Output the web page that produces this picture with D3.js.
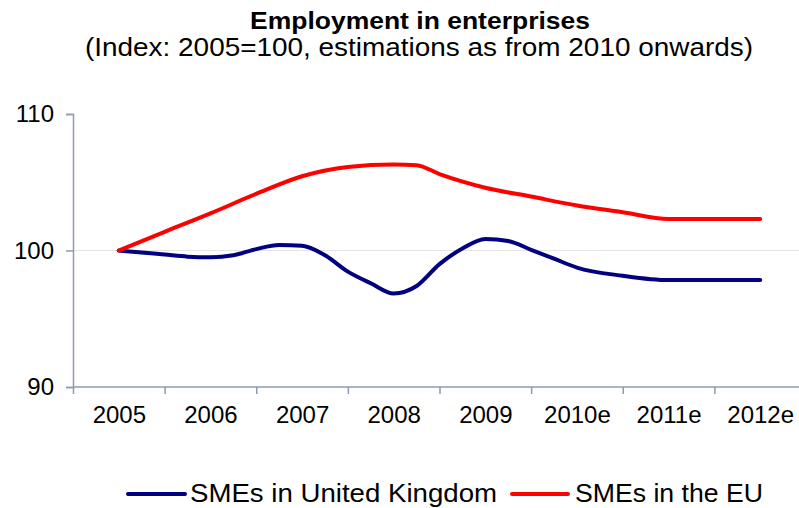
<!DOCTYPE html>
<html>
<head>
<meta charset="utf-8">
<script src="https://cdn.jsdelivr.net/npm/d3@7"></script>
<style>
  html, body { margin: 0; padding: 0; background: #fff; }
  svg { display: block; font-family: "Liberation Sans", Arial, sans-serif; }
</style>
</head>
<body>
<svg id="chart" width="799" height="508"></svg>
<script>
const categories = ["2005", "2006", "2007", "2008", "2009", "2010e", "2011e", "2012e"];
const yTicks = [90, 100, 110];
const gridValues = [100];
const ukPeriods = [0, 0.25, 0.5, 0.75, 1, 1.25, 1.5, 1.75, 2, 2.25, 2.5, 2.75, 3, 3.25, 3.5, 3.75, 4, 4.25, 4.5, 4.75, 5, 5.5, 6, 7];
const ukValues  = [100, 99.85, 99.7, 99.55, 99.5, 99.65, 100.1, 100.4, 100.35, 99.65, 98.45, 97.6, 96.85, 97.4, 99.0, 100.15, 100.85, 100.7, 100.05, 99.4, 98.75, 98.15, 97.83, 97.83];
const euPeriods = [0, 0.5, 1, 1.5, 2, 2.5, 3, 3.25, 3.5, 4, 4.5, 5, 5.5, 6, 7];
const euValues  = [100, 101.37, 102.72, 104.15, 105.44, 106.12, 106.3, 106.25, 105.6, 104.6, 103.95, 103.3, 102.8, 102.3, 102.3];
const seriesNames = ["SMEs in United Kingdom", "SMEs in the EU"];
const seriesColors = ["#000080", "#ff0000"];

const svg = d3.select("#chart");
const W = 799;

const x = d3.scaleLinear().domain([-0.5, categories.length - 0.5]).range([73, 806]);
const y = d3.scaleLinear().domain([90, 110]).range([387, 114]);

// Title
svg.append("text").attr("x", 420).attr("y", 29).attr("text-anchor", "middle")
  .attr("font-size", 24).attr("font-weight", "bold")
  .attr("textLength", 340).attr("lengthAdjust", "spacingAndGlyphs")
  .text("Employment in enterprises");
svg.append("text").attr("x", 419).attr("y", 56).attr("text-anchor", "middle")
  .attr("font-size", 25.5)
  .attr("textLength", 668).attr("lengthAdjust", "spacingAndGlyphs")
  .text("(Index: 2005=100, estimations as from 2010 onwards)");

// Gridline
svg.append("g").selectAll("line").data(gridValues).join("line")
  .attr("x1", 73).attr("x2", W).attr("y1", d => y(d)).attr("y2", d => y(d))
  .attr("stroke", "#e4e4e4").attr("stroke-width", 1);

const axisColor = "#8d9bb3";

// Y axis
const yAxis = svg.append("g").attr("transform", "translate(73,0)")
  .call(d3.axisLeft(y).tickValues(yTicks).tickSize(7).tickPadding(12).tickFormat(d3.format("d")));
yAxis.select(".domain").attr("stroke", axisColor).attr("stroke-width", 1.5);
yAxis.selectAll(".tick line").attr("stroke", axisColor).attr("stroke-width", 1.5);
yAxis.selectAll(".tick text").attr("font-size", 24).attr("fill", "#000")
  .attr("font-family", "'Liberation Sans', Arial, sans-serif");

// X axis: tick marks at category boundaries
const boundaries = d3.range(0, categories.length + 1).map(i => i - 0.5);
const xTicksAxis = svg.append("g").attr("transform", "translate(0,387)")
  .call(d3.axisBottom(x).tickValues(boundaries).tickSize(7).tickFormat(""));
xTicksAxis.select(".domain").remove();
xTicksAxis.selectAll(".tick line").attr("stroke", axisColor).attr("stroke-width", 1.5);
svg.append("line").attr("x1", 73).attr("x2", W).attr("y1", 387).attr("y2", 387)
  .attr("stroke", axisColor).attr("stroke-width", 1.5);

// X labels at category centres
const xLabels = svg.append("g").attr("transform", "translate(0,387)")
  .call(d3.axisBottom(x).tickValues(d3.range(categories.length)).tickSize(0).tickPadding(19)
    .tickFormat(i => categories[i]));
xLabels.select(".domain").remove();
xLabels.selectAll(".tick text").attr("font-size", 24).attr("fill", "#000")
  .attr("font-family", "'Liberation Sans', Arial, sans-serif");

// Lines
const line = d3.line().x(d => x(d[0])).y(d => y(d[1])).curve(d3.curveMonotoneX);
const series = [
  d3.zip(ukPeriods, ukValues),
  d3.zip(euPeriods, euValues)
];
svg.append("g").selectAll("path").data(series).join("path")
  .attr("d", line).attr("fill", "none")
  .attr("stroke", (d, i) => seriesColors[i]).attr("stroke-width", 4)
  .attr("stroke-linejoin", "round").attr("stroke-linecap", "round");

// Legend
const legendItems = [
  { x0: 128, x1: 185, tx: 190, tl: 307 },
  { x0: 512, x1: 568, tx: 575, tl: 188 }
];
const lg = svg.append("g");
legendItems.forEach((it, i) => {
  lg.append("line").attr("x1", it.x0).attr("x2", it.x1).attr("y1", 494).attr("y2", 494)
    .attr("stroke", seriesColors[i]).attr("stroke-width", 4).attr("stroke-linecap", "round");
  lg.append("text").attr("x", it.tx).attr("y", 502).attr("font-size", 26)
    .attr("textLength", it.tl).attr("lengthAdjust", "spacingAndGlyphs")
    .text(seriesNames[i]);
});
</script>
</body>
</html>
